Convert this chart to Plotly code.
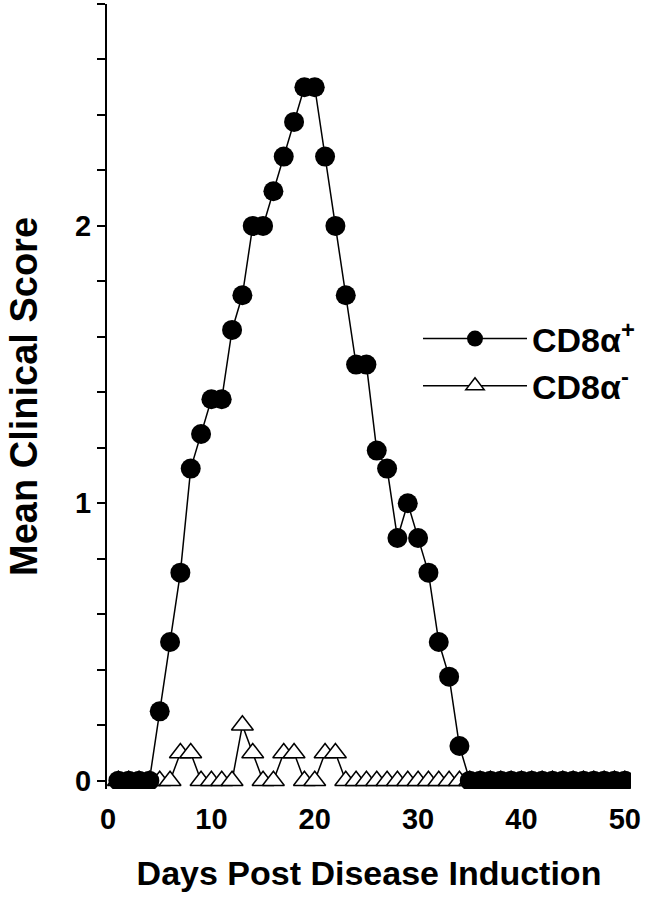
import plotly.graph_objects as go

# days post induction
days = list(range(1, 51))

# mean clinical score, CD8a+ group (filled circles)
cd8_pos = [0, 0, 0, 0, 0.25, 0.5, 0.75, 1.125, 1.25, 1.375,
           1.375, 1.625, 1.75, 2.0, 2.0, 2.125, 2.25, 2.375, 2.5, 2.5,
           2.25, 2.0, 1.75, 1.5, 1.5, 1.19, 1.125, 0.875, 1.0, 0.875,
           0.75, 0.5, 0.375, 0.125, 0, 0, 0, 0, 0, 0,
           0, 0, 0, 0, 0, 0, 0, 0, 0, 0]

# mean clinical score, CD8a- group (open triangles)
cd8_neg = [0, 0, 0, 0, 0, 0, 0.1, 0.1, 0, 0,
           0, 0, 0.2, 0.1, 0, 0, 0.1, 0.1, 0, 0,
           0.1, 0.1, 0, 0, 0, 0, 0, 0, 0, 0,
           0, 0, 0, 0, 0, 0, 0, 0, 0, 0,
           0, 0, 0, 0, 0, 0, 0, 0, 0, 0]

# y ticks every 0.2, labelled only at whole numbers
y_tickvals = [0, 0.2, 0.4, 0.6, 0.8, 1.0, 1.2, 1.4, 1.6, 1.8, 2.0, 2.2, 2.4, 2.6, 2.8]
y_ticktext = ["0", "", "", "", "", "1", "", "", "", "", "2", "", "", "", ""]
x_tickvals = [0, 10, 20, 30, 40, 50]

FONT = "Liberation Sans, Arial, Helvetica, sans-serif"

fig = go.Figure()

fig.add_trace(go.Scatter(
    x=days, y=cd8_neg,
    mode="lines+markers",
    name="CD8α<sup>-</sup>",
    legendgroup="neg", legendrank=2,
    line=dict(color="black", width=1.5),
    marker=dict(symbol="triangle-up", size=19, color="white",
                line=dict(color="black", width=1.5)),
))

fig.add_trace(go.Scatter(
    x=days, y=cd8_pos,
    mode="lines+markers",
    name="CD8α<sup>+</sup>",
    legendgroup="pos", legendrank=1,
    line=dict(color="black", width=1.5),
    marker=dict(symbol="circle", size=20, color="black", line=dict(width=0)),
))

fig.update_layout(
    width=645, height=899,
    margin=dict(l=107, r=14, t=4, b=110, autoexpand=False),
    paper_bgcolor="white", plot_bgcolor="white",
    font=dict(family=FONT, color="black", size=29, weight="bold"),
    showlegend=True,
    legend=dict(
        x=(418 - 107) / 524, y=(789 - 310) / 785, xanchor="left", yanchor="top",
        bgcolor="rgba(0,0,0,0)",
        font=dict(family=FONT, size=34, color="black", weight="bold"),
        itemwidth=104, tracegroupgap=0,
    ),
)

fig.update_xaxes(
    range=[-0.1, 50.6], automargin=False,
    tickvals=x_tickvals,
    showline=False, showgrid=False, zeroline=False,
    ticks="outside", ticklen=4, tickcolor="rgba(0,0,0,0)",
    tickfont=dict(size=29, weight="bold"),
    title=dict(text="Days Post Disease Induction", standoff=27,
               font=dict(size=34, weight="bold")),
)

fig.update_yaxes(
    range=[-0.03, 2.8], automargin=False,
    tickvals=y_tickvals, ticktext=y_ticktext,
    showline=True, linecolor="black", linewidth=2,
    showgrid=False, zeroline=False,
    ticks="outside", ticklen=8, tickwidth=2, tickcolor="black",
    tickfont=dict(size=29, weight="bold"),
    title=dict(text="Mean Clinical Score", standoff=26,
               font=dict(size=38, weight="bold")),
)

fig.write_html("out.html", config={"displayModeBar": False})

# drop the browser's default body margin so the figure sits at the page corner
with open("out.html", encoding="utf-8") as f:
    page = f.read()
page = page.replace("<head>", "<head><style>body{margin:0;}</style>", 1)
with open("out.html", "w", encoding="utf-8") as f:
    f.write(page)
